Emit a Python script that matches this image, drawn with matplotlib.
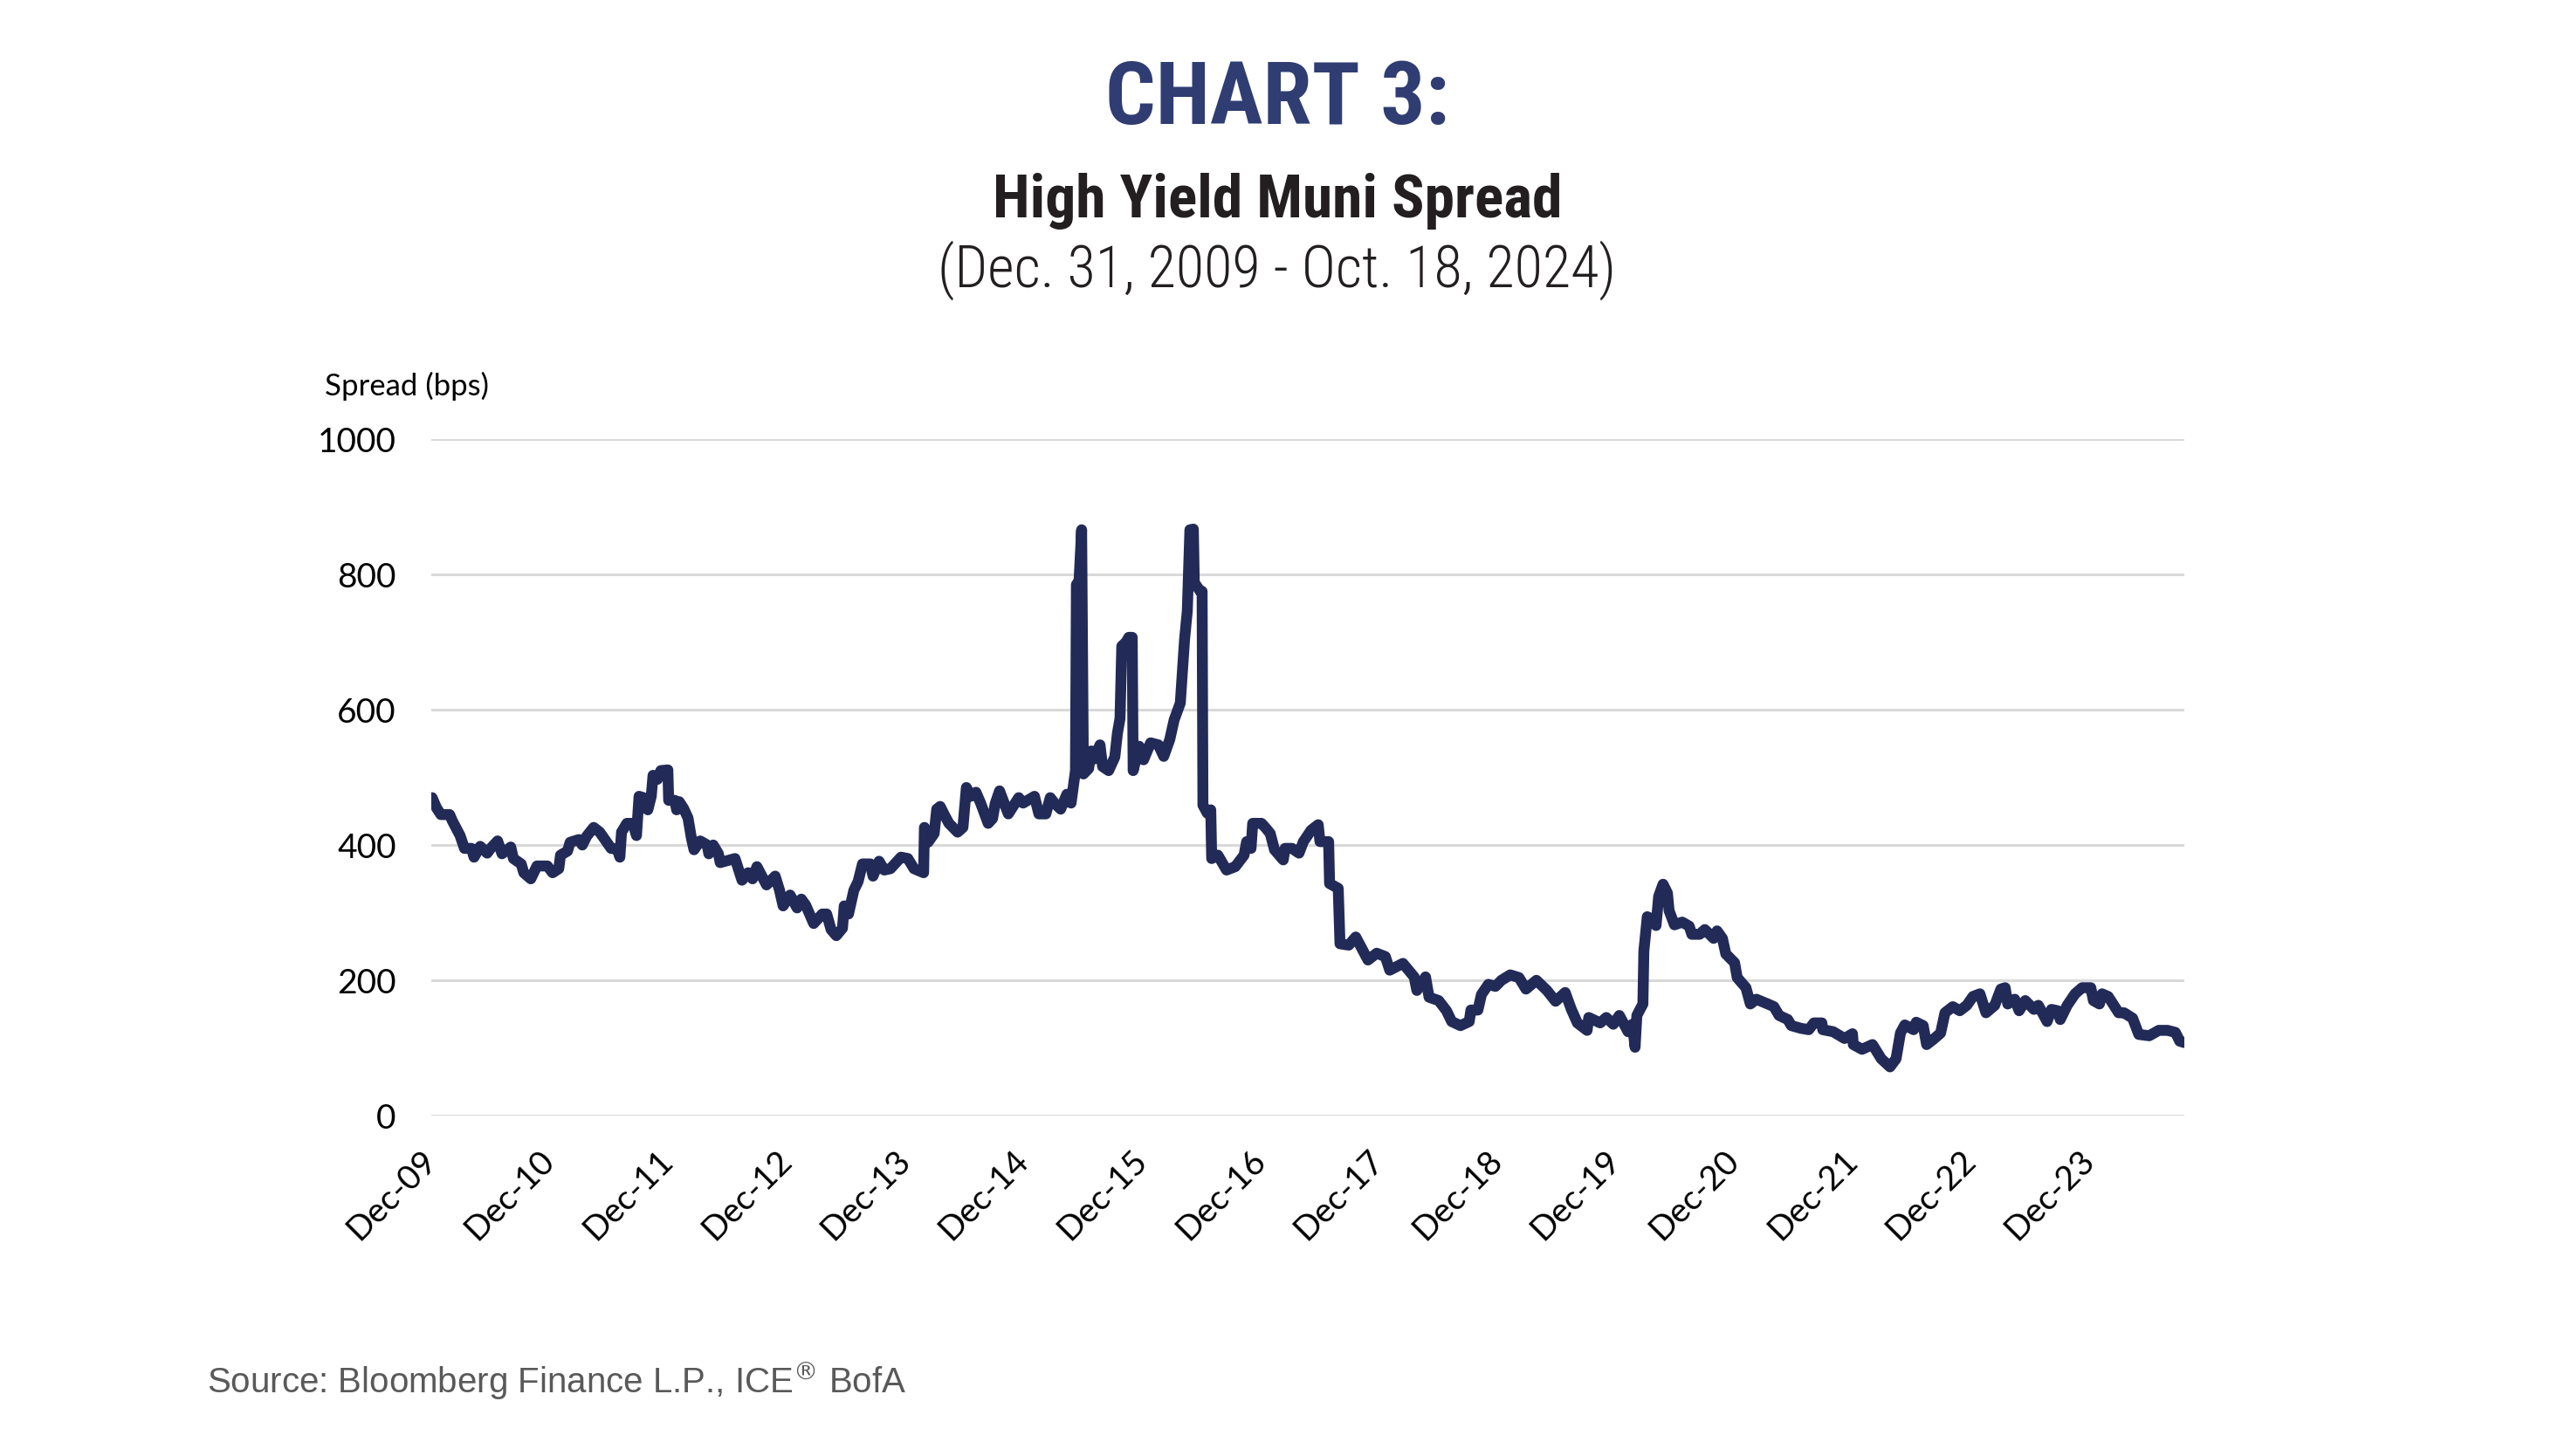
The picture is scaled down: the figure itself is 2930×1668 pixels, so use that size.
import numpy as np
import pandas as pd
import matplotlib
matplotlib.use("Agg")
import matplotlib.pyplot as plt
from matplotlib import font_manager

# ---------------- data ----------------
# time in years after Dec. 31, 2009
t_years = [
    0.007, 0.044, 0.081, 0.155, 0.177, 0.243, 0.280, 0.339, 0.361, 0.413,
    0.472, 0.501, 0.560, 0.597, 0.671, 0.693, 0.759, 0.781, 0.840, 0.892,
    0.980, 1.024, 1.076, 1.091, 1.150, 1.172, 1.245, 1.275, 1.312, 1.371,
    1.422, 1.518, 1.570, 1.592, 1.606, 1.651, 1.702, 1.732, 1.754, 1.791,
    1.828, 1.857, 1.872, 1.909, 1.938, 1.997, 2.004, 2.056, 2.071, 2.093,
    2.130, 2.167, 2.196, 2.218, 2.270, 2.329, 2.343, 2.380, 2.424, 2.439,
    2.564, 2.623, 2.675, 2.712, 2.749, 2.830, 2.903, 2.940, 2.970, 3.029,
    3.088, 3.124, 3.161, 3.228, 3.301, 3.338, 3.375, 3.419, 3.471, 3.486,
    3.522, 3.567, 3.603, 3.640, 3.707, 3.729, 3.780, 3.824, 3.876, 3.965,
    4.023, 4.075, 4.156, 4.163, 4.193, 4.245, 4.267, 4.296, 4.333, 4.370,
    4.443, 4.488, 4.517, 4.554, 4.598, 4.635, 4.701, 4.738, 4.760, 4.797,
    4.871, 4.959, 4.996, 5.092, 5.129, 5.188, 5.225, 5.261, 5.313, 5.365,
    5.401, 5.438, 5.446, 5.468, 5.490, 5.505, 5.549, 5.571, 5.593, 5.645,
    5.667, 5.718, 5.770, 5.792, 5.814, 5.829, 5.866, 5.888, 5.917, 5.925,
    5.976, 6.013, 6.072, 6.138, 6.183, 6.234, 6.271, 6.323, 6.359, 6.382,
    6.404, 6.433, 6.441, 6.492, 6.507, 6.514, 6.551, 6.580, 6.588, 6.640,
    6.713, 6.787, 6.861, 6.883, 6.920, 6.934, 7.008, 7.045, 7.082, 7.118,
    7.192, 7.207, 7.266, 7.325, 7.362, 7.428, 7.487, 7.502, 7.575, 7.583,
    7.656, 7.671, 7.745, 7.804, 7.907, 7.981, 8.054, 8.091, 8.202, 8.297,
    8.320, 8.393, 8.423, 8.504, 8.570, 8.614, 8.688, 8.762, 8.776, 8.835,
    8.865, 8.924, 8.983, 9.034, 9.108, 9.182, 9.241, 9.329, 9.418, 9.491,
    9.572, 9.624, 9.675, 9.757, 9.771, 9.867, 9.919, 9.978, 10.029, 10.103,
    10.140, 10.162, 10.177, 10.228, 10.236, 10.265, 10.309, 10.339, 10.361, 10.398,
    10.435, 10.449, 10.494, 10.560, 10.619, 10.641, 10.707, 10.751, 10.825, 10.854,
    10.899, 10.928, 11.002, 11.024, 11.098, 11.135, 11.186, 11.282, 11.334, 11.378,
    11.451, 11.481, 11.562, 11.628, 11.672, 11.739, 11.746, 11.834, 11.930, 11.997,
    12.004, 12.078, 12.166, 12.240, 12.314, 12.365, 12.402, 12.439, 12.513, 12.535,
    12.594, 12.623, 12.682, 12.741, 12.778, 12.844, 12.903, 12.962, 13.014, 13.073,
    13.124, 13.198, 13.250, 13.286, 13.308, 13.367, 13.404, 13.456, 13.529, 13.566,
    13.640, 13.677, 13.729, 13.751, 13.810, 13.876, 13.935, 14.009, 14.031, 14.082,
    14.104, 14.156, 14.244, 14.289, 14.362, 14.414, 14.502, 14.583, 14.657, 14.723,
    14.760, 14.797,
]
spread_bps = [
    470, 455, 445, 445, 436, 414, 395, 395, 382, 398,
    388, 395, 406, 387, 397, 380, 372, 359, 350, 369,
    369, 359, 365, 385, 391, 404, 408, 400, 413, 426,
    419, 395, 394, 382, 419, 432, 432, 414, 472, 470,
    452, 472, 503, 497, 510, 511, 466, 466, 452, 464,
    454, 440, 410, 393, 406, 400, 387, 400, 387, 374,
    380, 348, 359, 350, 368, 341, 354, 333, 310, 326,
    307, 320, 311, 284, 298, 298, 275, 266, 277, 310,
    298, 333, 346, 372, 372, 354, 376, 363, 365, 382,
    380, 365, 359, 426, 404, 417, 453, 457, 444, 432,
    419, 426, 485, 472, 478, 463, 432, 439, 461, 480,
    446, 470, 462, 472, 446, 446, 470, 462, 453, 475,
    462, 510, 785, 790, 866, 505, 513, 539, 527, 548,
    516, 510, 530, 565, 587, 694, 700, 707, 707, 510,
    546, 526, 551, 548, 531, 556, 585, 610, 704, 746,
    866, 867, 788, 775, 775, 459, 447, 452, 380, 385,
    363, 368, 385, 405, 395, 432, 432, 425, 417, 393,
    378, 395, 395, 388, 405, 422, 430, 405, 405, 343,
    336, 254, 252, 264, 230, 240, 235, 215, 225, 205,
    185, 205, 175, 170, 155, 139, 133, 139, 156, 156,
    179, 194, 191, 200, 208, 204, 187, 200, 185, 169,
    182, 157, 137, 126, 145, 137, 145, 135, 148, 124,
    135, 101, 148, 165, 243, 294, 290, 281, 324, 342,
    329, 303, 282, 286, 280, 268, 268, 275, 262, 273,
    262, 239, 226, 204, 189, 165, 172, 165, 161, 148,
    142, 133, 129, 127, 137, 137, 127, 124, 114, 121,
    105, 98, 105, 84, 72, 84, 122, 134, 127, 138,
    133, 105, 113, 122, 152, 161, 155, 163, 176, 180,
    152, 163, 187, 189, 165, 172, 155, 170, 157, 163,
    139, 157, 155, 142, 163, 180, 189, 189, 170, 165,
    180, 176, 152, 152, 144, 120, 118, 126, 126, 123,
    110, 108,
]
tick_years = list(range(2009, 2024))
tick_labels = [f"Dec-{y % 100:02d}" for y in tick_years]
y_ticks = [0, 200, 400, 600, 800, 1000]

title = "CHART 3:"
subtitle1 = "High Yield Muni Spread"
subtitle2 = "(Dec. 31, 2009 - Oct. 18, 2024)"
y_label = "Spread (bps)"
source = "Source: Bloomberg Finance L.P., ICE$^{\\circledR}$ BofA"

# ---------------- fonts ----------------
names = {f.name for f in font_manager.fontManager.ttflist}
def pick(*cands):
    for c in cands:
        if c in names:
            return c
    return "DejaVu Sans"
cond_font = pick("Roboto Condensed", "Liberation Sans Narrow", "DejaVu Sans Condensed", "Liberation Sans")
axis_font = pick("Lato", "Open Sans", "DejaVu Sans")
src_font = pick("Liberation Sans", "Roboto", "DejaVu Sans")

# ---------------- figure ----------------
base = pd.Timestamp("2009-12-31")
dates = base + pd.to_timedelta(np.array(t_years) * 365.25, unit="D")

fig = plt.figure(figsize=(29.30, 16.68), dpi=100)
ax = fig.add_axes([0.1686, 0.2338, 0.6853, 0.4646])

ax.plot(dates, spread_bps, color="#222B57", linewidth=9,
        solid_joinstyle="round", solid_capstyle="round", zorder=3)

ax.set_ylim(0, 1000)
ax.set_xlim(base, pd.Timestamp("2024-10-18"))
ax.set_yticks(y_ticks)
ax.set_yticklabels([str(v) for v in y_ticks], fontsize=28, family=axis_font)
ticks = pd.to_datetime([f"{y}-12-31" for y in tick_years])
ax.set_xticks(ticks)
ax.set_xticklabels(tick_labels, rotation=45, ha="right", va="center",
                   rotation_mode="anchor", fontsize=28, family=axis_font)
ax.tick_params(axis="both", length=0)
ax.tick_params(axis="y", pad=29)
ax.tick_params(axis="x", pad=33)
ax.grid(axis="y", color="#D9D9D9", linewidth=2.2, zorder=0)
ax.grid(axis="x", visible=False)
for s in ax.spines.values():
    s.set_visible(False)

fig.text(0.127, 0.7285, y_label, fontsize=25, family=axis_font, color="black",
         ha="left", va="baseline")

fig.text(0.4993, 0.915, title, fontsize=73, fontweight="bold", family=cond_font,
         color="#2F3D73", ha="center", va="baseline")
fig.text(0.4993, 0.851, subtitle1, fontsize=50, fontweight="bold", family=cond_font,
         color="#231F20", ha="center", va="baseline")
fig.text(0.4993, 0.803, subtitle2, fontsize=47.8, fontweight="light", family=cond_font,
         color="#231F20", ha="center", va="baseline")
fig.text(0.081, 0.0432, source, fontsize=29, family=src_font, color="#595959",
         ha="left", va="baseline")

fig.savefig("out.png", dpi=100, facecolor="white")
